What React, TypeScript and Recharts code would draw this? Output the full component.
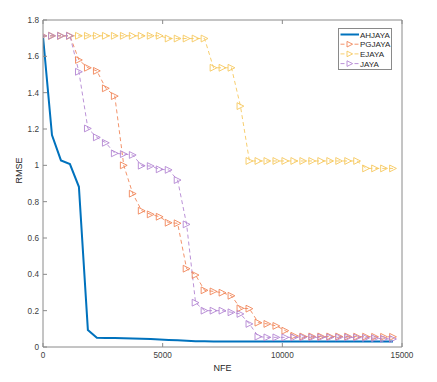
import { Label, Line, LineChart, XAxis, YAxis } from "recharts";

const NFE = [
  0, 375, 750, 1125, 1500, 1875, 2250, 2625, 3000, 3375, 3750, 4125, 4500, 4875,
  5250, 5625, 6000, 6375, 6750, 7125, 7500, 7875, 8250, 8625, 9000, 9375, 9750,
  10125, 10500, 10875, 11250, 11625, 12000, 12375, 12750, 13125, 13500, 13875,
  14250, 14625,
];

const AHJAYA = [
  1.71, 1.167, 1.027, 1.007, 0.882, 0.094, 0.051, 0.05, 0.049, 0.048, 0.047,
  0.046, 0.044, 0.041, 0.039, 0.037, 0.034, 0.032, 0.031, 0.03, 0.03, 0.03, 0.03,
  0.03, 0.03, 0.03, 0.03, 0.03, 0.03, 0.03, 0.03, 0.03, 0.03, 0.03, 0.03, 0.03,
  0.03, 0.03, 0.03, 0.03,
];

const PGJAYA = [
  1.713, 1.713, 1.713, 1.713, 1.58, 1.537, 1.52, 1.424, 1.381, 1.0, 0.844, 0.75,
  0.73, 0.717, 0.684, 0.681, 0.431, 0.396, 0.312, 0.306, 0.299, 0.282, 0.213,
  0.211, 0.134, 0.127, 0.116, 0.09, 0.062, 0.058, 0.058, 0.058, 0.058, 0.058,
  0.058, 0.057, 0.057, 0.056, 0.056, 0.056,
];

const EJAYA = [
  1.713, 1.713, 1.713, 1.713, 1.713, 1.713, 1.713, 1.713, 1.713, 1.713, 1.713,
  1.713, 1.713, 1.713, 1.698, 1.698, 1.698, 1.698, 1.698, 1.537, 1.537, 1.537,
  1.326, 1.024, 1.024, 1.024, 1.024, 1.024, 1.024, 1.024, 1.024, 1.024, 1.024,
  1.024, 1.024, 1.024, 0.983, 0.983, 0.983, 0.983,
];

const JAYA = [
  1.713, 1.713, 1.713, 1.713, 1.515, 1.203, 1.154, 1.124, 1.066, 1.062, 1.057,
  0.998, 0.996, 0.978, 0.975, 0.919, 0.675, 0.244, 0.2, 0.2, 0.2, 0.191, 0.182,
  0.127, 0.057, 0.053, 0.053, 0.053, 0.053, 0.053, 0.053, 0.053, 0.053, 0.053,
  0.053, 0.052, 0.05, 0.048, 0.045, 0.044,
];

const X_TICKS = [0, 5000, 10000, 15000];
const Y_TICKS = [0, 0.2, 0.4, 0.6, 0.8, 1, 1.2, 1.4, 1.6, 1.8];

const data = NFE.map((nfe, i) => ({
  nfe,
  AHJAYA: AHJAYA[i],
  PGJAYA: PGJAYA[i],
  EJAYA: EJAYA[i],
  JAYA: JAYA[i],
}));

const BLUE = "#0072BD";
const ORANGE = "#F0875A";
const YELLOW = "#F6C85F";
const PURPLE = "#B386D2";
const AXIS = "#8a8a8a";
const FONT = "'Liberation Sans', Arial, sans-serif";

function triangle(color: string) {
  return (props: any) => {
    const { cx, cy, index } = props;
    if (cx == null || cy == null) return <g key={index} />;
    const s = 3.4;
    return (
      <polygon
        key={index}
        points={`${cx - s},${cy - s} ${cx + s},${cy} ${cx - s},${cy + s}`}
        fill="none"
        stroke={color}
        strokeWidth={0.9}
      />
    );
  };
}

const LEGEND_ITEMS = [
  { name: "AHJAYA", color: BLUE, marker: false },
  { name: "PGJAYA", color: ORANGE, marker: true },
  { name: "EJAYA", color: YELLOW, marker: true },
  { name: "JAYA", color: PURPLE, marker: true },
];

function LegendBox() {
  return (
    <svg width={55} height={42} style={{ display: "block" }}>
      <rect x={0.5} y={0.5} width={53} height={41} fill="#fff" stroke={AXIS} />
      {LEGEND_ITEMS.map((it, i) => {
        const y = 6.5 + i * 9.7;
        return (
          <g key={it.name}>
            {it.marker ? (
              <>
                <line x1={2.5} x2={21} y1={y} y2={y} stroke={it.color} strokeWidth={0.9} strokeDasharray="4 3" />
                <polygon
                  points={`${9},${y - 2.8} ${14.6},${y} ${9},${y + 2.8}`}
                  fill="#fff"
                  stroke={it.color}
                  strokeWidth={0.9}
                />
              </>
            ) : (
              <line x1={2.5} x2={21} y1={y} y2={y} stroke={it.color} strokeWidth={2} />
            )}
            <text x={22} y={y + 3} fontSize={8} fill="#262626" fontFamily={FONT}>
              {it.name}
            </text>
          </g>
        );
      })}
    </svg>
  );
}

const fmtY = (v: number) => String(Number(v.toFixed(1)));

export default function App() {
  return (
    <div style={{ position: "absolute", left: 0, top: 0, width: 437, height: 382, background: "#fff" }}>
      <LineChart
        width={437}
        height={382}
        data={data}
        margin={{ top: 19, right: 34, bottom: 0, left: 0 }}
        style={{ fontFamily: FONT }}
      >
        <XAxis
          dataKey="nfe"
          type="number"
          domain={[0, 15000]}
          ticks={X_TICKS}
          allowDataOverflow
          height={35}
          stroke={AXIS}
          tickSize={-4}
          tickMargin={9}
          tick={{ fontSize: 8.2, fill: "#404040" }}
        >
          <Label value="NFE" position="insideBottom" offset={11} fontSize={9} fill="#262626" />
        </XAxis>
        <XAxis
          xAxisId="top"
          orientation="top"
          dataKey="nfe"
          type="number"
          domain={[0, 15000]}
          ticks={X_TICKS}
          height={1}
          stroke={AXIS}
          tickSize={-4}
          tickFormatter={() => ""}
        />
        <YAxis
          type="number"
          domain={[0, 1.8]}
          ticks={Y_TICKS}
          allowDataOverflow
          width={43}
          stroke={AXIS}
          tickSize={-4}
          tickMargin={8}
          tickFormatter={fmtY}
          tick={{ fontSize: 8.2, fill: "#404040" }}
        >
          <Label value="RMSE" angle={-90} position="insideLeft" offset={19} fontSize={9} fill="#262626" />
        </YAxis>
        <YAxis
          yAxisId="right"
          orientation="right"
          type="number"
          domain={[0, 1.8]}
          ticks={Y_TICKS}
          width={1}
          stroke={AXIS}
          tickSize={-4}
          tickFormatter={() => ""}
        />
        <Line
          dataKey="PGJAYA"
          stroke={ORANGE}
          strokeWidth={0.9}
          strokeDasharray="4 3"
          dot={triangle(ORANGE)}
          isAnimationActive={false}
        />
        <Line
          dataKey="EJAYA"
          stroke={YELLOW}
          strokeWidth={0.9}
          strokeDasharray="4 3"
          dot={triangle(YELLOW)}
          isAnimationActive={false}
        />
        <Line
          dataKey="JAYA"
          stroke={PURPLE}
          strokeWidth={0.9}
          strokeDasharray="4 3"
          dot={triangle(PURPLE)}
          isAnimationActive={false}
        />
        <Line
          dataKey="AHJAYA"
          stroke={BLUE}
          strokeWidth={2}
          dot={false}
          isAnimationActive={false}
        />
      </LineChart>
      <div style={{ position: "absolute", left: 338, top: 28 }}>
        <LegendBox />
      </div>
    </div>
  );
}
